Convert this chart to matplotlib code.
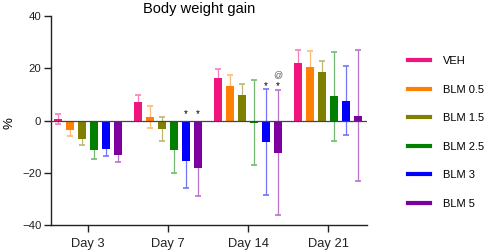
import numpy as np
import matplotlib.pyplot as plt
import matplotlib.colors as mcolors

plt.rcParams['font.family'] = ['Liberation Sans', 'DejaVu Sans']

days = ['Day 3', 'Day 7', 'Day 14', 'Day 21']
groups = ['VEH', 'BLM 0.5', 'BLM 1.5', 'BLM 2.5', 'BLM 3', 'BLM 5']
colors = ['#F0147F', '#FF7F00', '#808000', '#007F00', '#0000FF', '#7F00A0']

# mean % gain per group, one value per day
means = [
    [0.5, 7.2, 16.4, 22.2],
    [-3.7, 1.4, 13.1, 20.5],
    [-6.9, -3.3, 9.7, 18.7],
    [-11.4, -11.3, -0.9, 9.2],
    [-10.8, -15.6, -8.3, 7.6],
    [-13.1, -18.2, -12.3, 1.9],
]
errs = [
    [2.0, 2.7, 3.5, 4.7],
    [2.1, 4.1, 4.5, 6.2],
    [2.3, 4.7, 4.1, 4.1],
    [3.3, 8.8, 16.3, 17.1],
    [2.7, 10.3, 20.2, 13.1],
    [2.8, 10.6, 24.0, 25.0],
]
# (day, group, mark, y)
marks = [(1, 4, '*', 2.3), (1, 5, '*', 2.3), (2, 4, '*', 13.2), (2, 5, '*', 13.2), (2, 5, '@', 17.5)]


def lighter(c, f=0.45):
    r, g, b = mcolors.to_rgb(c)
    return (r + (1 - r) * f, g + (1 - g) * f, b + (1 - b) * f)


fig = plt.figure(figsize=(4.84, 2.52), dpi=100)
ax = fig.add_axes([0.1054, 0.1071, 0.6529, 0.8294])

x = np.arange(len(days))
step = 0.15
width = 0.105
for i, g in enumerate(groups):
    xs = x + (i - 2.5) * step
    ax.errorbar(xs, means[i], yerr=errs[i], fmt='none', ecolor=lighter(colors[i]),
                elinewidth=0.9, capsize=1.9, capthick=1.2, zorder=1)
    ax.bar(xs, means[i], width=width, color=colors[i], zorder=2)
    ax.plot([], [], color=colors[i], lw=3, label=g)

for d, gi, t, yv in marks:
    xp = x[d] + (gi - 2.5) * step
    if t == '*':
        ax.text(xp, yv, t, ha='center', va='center', fontsize=7, color='black')
    else:
        ax.text(xp, yv, t, ha='center', va='center', fontsize=6.5, color='#555555')

ax.axhline(0, color='#444444', lw=0.9, zorder=3)

ax.set_xlim(-0.4625, 3.4875)
ax.set_ylim(-40, 40)
ax.set_yticks([-40, -20, 0, 20, 40])
ax.set_xticks(x)
ax.set_xticklabels(days, fontsize=9.3)
ax.tick_params(axis='y', labelsize=8.2, length=5, width=1, pad=2, colors='#222222')
ax.tick_params(axis='x', length=5, width=1, pad=4, colors='#222222')
for s in ['top', 'right']:
    ax.spines[s].set_visible(False)
for s in ['left', 'bottom']:
    ax.spines[s].set_linewidth(1)
    ax.spines[s].set_color('#222222')

ax.set_ylabel('%', fontsize=9.5)
ax.yaxis.set_label_coords(-0.112, 0.49)
ax.set_title('Body weight gain', fontsize=10.5, x=0.47, pad=2)

fig.legend(loc='upper left', bbox_to_anchor=(0.832, 0.8), frameon=False,
           fontsize=8, handlelength=2.0, handletextpad=1.15, labelspacing=1.67,
           borderpad=0)

fig.savefig('out.png', dpi=100)
